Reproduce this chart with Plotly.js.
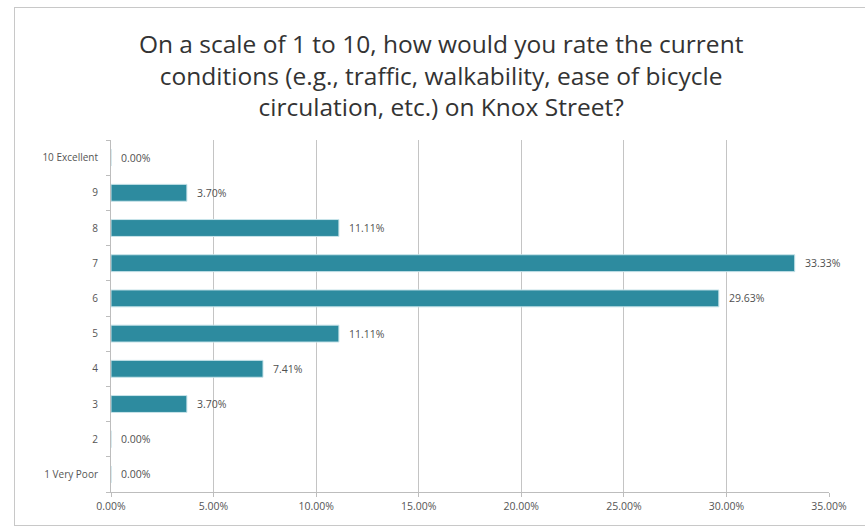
<!DOCTYPE html>
<html>
<head>
<meta charset="utf-8">
<script src="https://cdn.plot.ly/plotly-3.0.1.min.js"></script>
<style>
html,body{margin:0;padding:0;background:#fff;}
#wrap{position:relative;width:865px;height:527px;}
#chart{width:865px;height:527px;}
#frame{position:absolute;left:14px;top:7px;width:852px;height:519px;border:1px solid #c8c8c8;pointer-events:none;box-sizing:border-box;}
</style>
</head>
<body>
<div id="wrap"><div id="chart"></div><div id="frame"></div></div>
<script>
const categories = ["1 Very Poor","2","3","4","5","6","7","8","9","10 Excellent"];
const values = [0.00, 0.00, 3.70, 7.41, 11.11, 29.63, 33.33, 11.11, 3.70, 0.00];
const labels = ["0.00%","0.00%","3.70%","7.41%","11.11%","29.63%","33.33%","11.11%","3.70%","0.00%"];
const xTicks = [0,5,10,15,20,25,30,35];
const xTickText = ["0.00%","5.00%","10.00%","15.00%","20.00%","25.00%","30.00%","35.00%"];
const titleText = "On a scale of 1 to 10, how would you rate the current<br>conditions (e.g., traffic, walkability, ease of bicycle<br>circulation, etc.) on Knox Street?";

const smallFont = "'Open Sans', Lato, sans-serif";

const trace = {
  type: "bar",
  orientation: "h",
  y: categories,
  x: values,
  marker: {color: "#2d8b9f", line: {color: "#c9e4ea", width: 1}},
  width: 0.48,
  hoverinfo: "none"
};

// category axis positions: index in the category array
const labelAnnotations = categories.map((c, i) => ({
  x: values[i], y: i, xref: "x", yref: "y",
  text: labels[i], showarrow: false,
  xanchor: "left", yanchor: "middle", xshift: 8,
  font: {family: smallFont, size: 10.5, color: "#505050"}
}));

const layout = {
  width: 865, height: 527,
  margin: {l: 111, r: 36, t: 140, b: 35},
  paper_bgcolor: "rgba(0,0,0,0)",
  plot_bgcolor: "#fff",
  showlegend: false,
  font: {family: smallFont, color: "#505050"},
  title: {
    text: titleText,
    font: {family: "'Open Sans', Lato, sans-serif", size: 24.5, color: "#333"},
    xref: "container", x: 0.51, xanchor: "center",
    yref: "container", y: 0.9, yanchor: "top"
  },
  annotations: labelAnnotations,
  xaxis: {
    range: [0, 35],
    tickvals: xTicks,
    ticktext: xTickText,
    tickfont: {family: smallFont, size: 10.5, color: "#555"},
    showgrid: true,
    gridcolor: "#c4c4c4",
    gridwidth: 1,
    showline: true,
    linecolor: "#bdbdbd",
    ticks: "outside",
    ticklen: 4,
    tickcolor: "#bdbdbd",
    zeroline: false,
    fixedrange: true
  },
  yaxis: {
    type: "category",
    categoryorder: "array",
    categoryarray: categories,
    tickfont: {family: smallFont, size: 10, color: "#555"},
    showline: true,
    linecolor: "#bdbdbd",
    ticks: "outside",
    tickson: "boundaries",
    ticklen: 4,
    tickcolor: "#bdbdbd",
    showgrid: false,
    ticklabelstandoff: 10,
    fixedrange: true
  }
};

Plotly.newPlot("chart", [trace], layout, {displayModeBar: false, staticPlot: true});
</script>
</body>
</html>
